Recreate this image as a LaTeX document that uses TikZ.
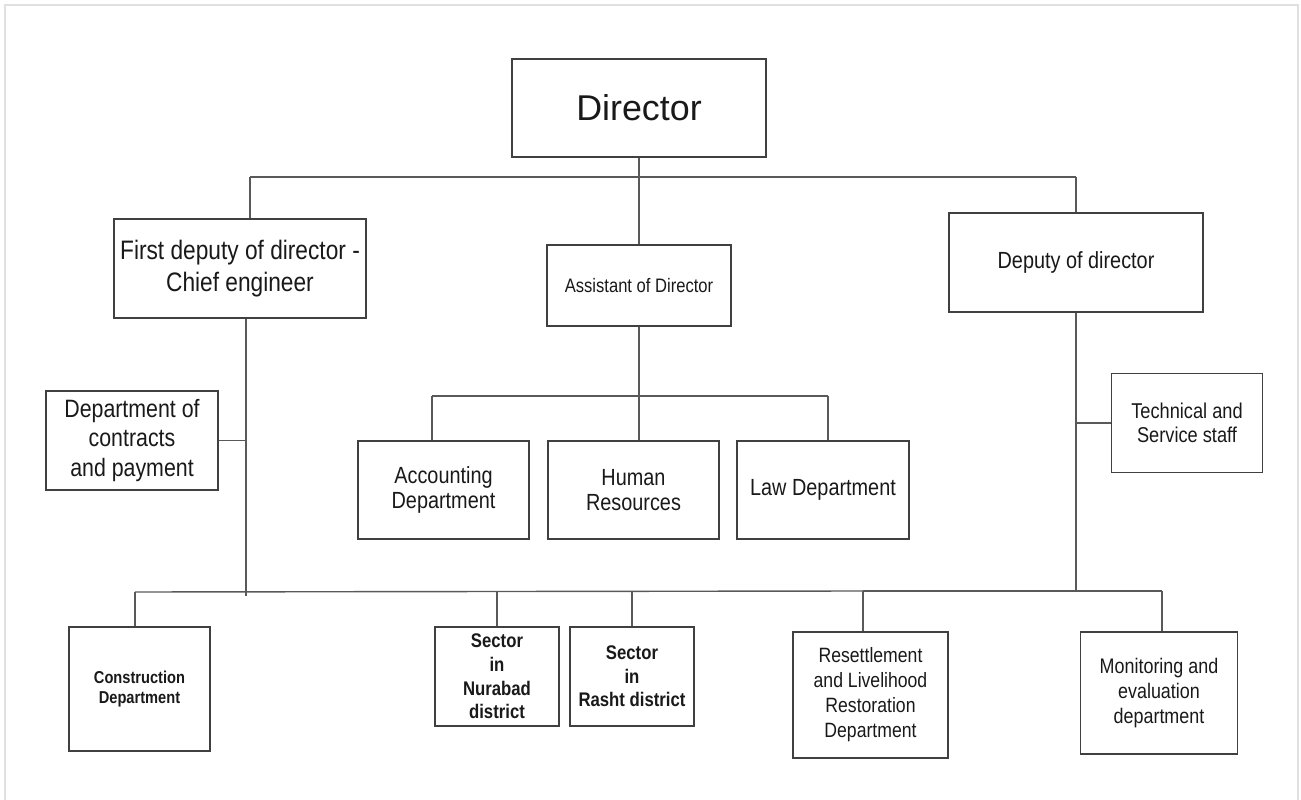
\documentclass[tikz,border=0pt]{standalone}
\usepackage{fontspec}
\setmainfont{Liberation Sans}
\newfontfamily\narrowfont{Liberation Sans}[FakeStretch=0.85]
\begin{document}
\begin{tikzpicture}[x=0.02cm,y=-0.02cm,
    post/.style={draw=black!75, line width=0.8pt, text=black!90, align=center, inner sep=0pt},
    link/.style={draw=black!65, line width=0.8pt}]
    \useasboundingbox (0,0) rectangle (1301,800);
    \draw[black!12, line width=0.8pt] (5,5) rectangle (1298,812);

    % top level
    \node[post, minimum width=5.08cm, minimum height=1.96cm, font=\fontsize{20.4}{24}\selectfont] (dir) at (639,108) {Director};
    \node[post, minimum width=5.04cm, minimum height=1.98cm, font=\narrowfont\fontsize{15.2}{18}\selectfont] (first) at (240,268.5) {First deputy of director -\\Chief engineer};
    \node[post, minimum width=3.68cm, minimum height=1.62cm, font=\narrowfont\fontsize{11.1}{12}\selectfont] (asst) at (639,285.5) {Assistant of Director};
    \node[post, minimum width=5.08cm, minimum height=1.98cm, font=\narrowfont\fontsize{13.3}{14}\selectfont] (depu) at (1076,262.5) {Deputy of director};

    % side boxes
    \node[post, minimum width=3.44cm, minimum height=1.98cm, font=\narrowfont\fontsize{14.3}{17}\selectfont] (contr) at (132,440.5) {Department of\\contracts\\and payment};
    \node[post, minimum width=3.02cm, minimum height=1.98cm, font=\narrowfont\fontsize{12.2}{13.3}\selectfont] (techn) at (1187,423) {Technical and\\Service staff};

    % under the assistant
    \node[post, minimum width=3.42cm, minimum height=1.96cm, font=\narrowfont\fontsize{13.3}{14.2}\selectfont] (acc) at (443.5,490) {Accounting\\Department};
    \node[post, minimum width=3.42cm, minimum height=1.96cm, font=\narrowfont\fontsize{13.3}{14.2}\selectfont] (hr) at (633.5,490) {Human\\Resources};
    \node[post, minimum width=3.44cm, minimum height=1.96cm, font=\narrowfont\fontsize{13.3}{14.2}\selectfont] (law) at (823,490) {Law Department};

    % bottom row
    \node[post, minimum width=2.82cm, minimum height=2.48cm, font=\narrowfont\bfseries\fontsize{9.8}{11.8}\selectfont] (constr) at (139.5,689) {Construction\\Department};
    \node[post, minimum width=2.48cm, minimum height=1.98cm, font=\narrowfont\bfseries\fontsize{11.2}{13.4}\selectfont] (nura) at (497,676.5) {Sector\\in\\Nurabad\\district};
    \node[post, minimum width=2.48cm, minimum height=1.98cm, font=\narrowfont\bfseries\fontsize{11.2}{13.4}\selectfont] (rasht) at (632,676.5) {Sector\\in\\Rasht district};
    \node[post, minimum width=3.10cm, minimum height=2.52cm, font=\narrowfont\fontsize{11.8}{14.2}\selectfont] (resl) at (870.5,695) {Resettlement\\and Livelihood\\Restoration\\Department};
    \node[post, minimum width=3.14cm, minimum height=2.44cm, font=\narrowfont\fontsize{12}{14.2}\selectfont] (moni) at (1159,693) {Monitoring and\\evaluation\\department};

    % connectors
    \coordinate (topl) at (250,177);
    \coordinate (topr) at (1076,177);
    \draw[link] (topl) -- (topr);
    \draw[link] (dir.south) -- (asst.north);
    \draw[link] (topl) -- (topl |- first.north);
    \draw[link] (topr) -- (depu.north);

    \coordinate (fend) at (246,596);
    \draw[link] (fend |- first.south) -- (fend);
    \draw[link] (contr.east) -- (contr.east -| fend);

    \coordinate (al) at (432,396);
    \coordinate (ar) at (828,396);
    \draw[link] (al) -- (ar);
    \draw[link] (asst.south) -- (asst.south |- hr.north);
    \draw[link] (al) -- (al |- acc.north);
    \draw[link] (ar) -- (ar |- law.north);

    \coordinate (bl) at (135,592);
    \coordinate (bm) at (863,591);
    \coordinate (br) at (1162,591);
    \draw[link] (depu.south) -- (depu.south |- br);
    \draw[link] (techn.west) -- (techn.west -| depu.south);
    \draw[link] (bl) -- (bm);
    \draw[link] (bm) -- (br);
    \draw[link] (bl) -- (bl |- constr.north);
    \draw[link] (nura.north) -- (nura.north |- bl);
    \draw[link] (rasht.north) -- (rasht.north |- bl);
    \draw[link] (bm) -- (bm |- resl.north);
    \draw[link] (br) -- (br |- moni.north);
\end{tikzpicture}
\end{document}
